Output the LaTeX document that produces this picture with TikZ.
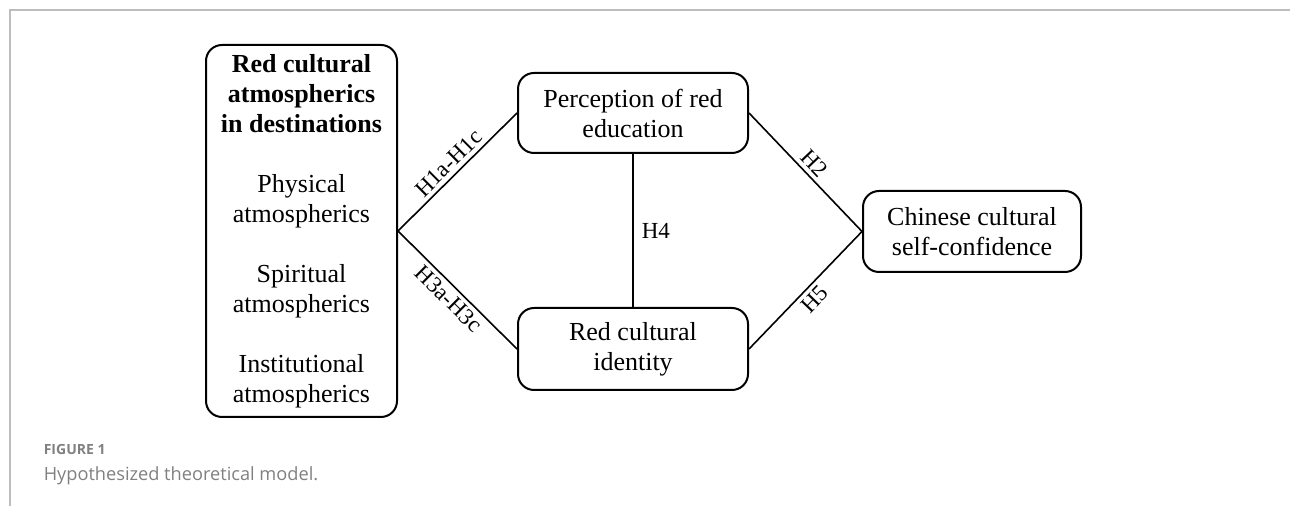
\documentclass[tikz,border=0pt]{standalone}
\usepackage{fontspec}
\setmainfont{Liberation Serif}
\newfontfamily\capfont{Open Sans}
\definecolor{framegray}{HTML}{BDBDBD}
\definecolor{capgray}{HTML}{808080}

\begin{document}
\begin{tikzpicture}[x=0.5pt, y=-0.5pt, thick]

    %styles
    \tikzstyle{var}=[draw, rounded corners=8pt, line width=1pt, align=center, inner sep=0pt, font=\fontsize{13}{15}\selectfont]
    \tikzstyle{link}=[draw, line width=0.8pt]
    \tikzstyle{hyp}=[inner sep=2pt, font=\fontsize{11.5}{13}\selectfont]
    \tikzstyle{caption}=[anchor=base west, inner sep=0pt, text=capgray]

    % frame
    \useasboundingbox (0,0) rectangle (1290,506);
    \draw[framegray, line width=0.8pt] (10,506) -- (10,10) -- (1290,10);

    % nodes
    \node[var, minimum width=95.5pt, minimum height=186pt] (atm) at (301.5,231) {\textbf{Red cultural}\\ \textbf{atmospherics}\\ \textbf{in destinations}\\[15pt] Physical\\ atmospherics\\[15pt] Spiritual\\ atmospherics\\[15pt] Institutional\\ atmospherics};
    \node[var, minimum width=115pt, minimum height=40pt] (per) at (633,113) {Perception of red\\ education};
    \node[var, minimum width=115pt, minimum height=41pt] (ide) at (633,349) {Red cultural\\ identity};
    \node[var, minimum width=109pt, minimum height=40.5pt] (con) at (972,231.5) {Chinese cultural\\ self-confidence};

    % links
    \draw[link] (atm.east) -- node[hyp, sloped, above] {H1a-H1c} (per.west);
    \draw[link] (atm.east) -- node[hyp, sloped, below] {H3a-H3c} (ide.west);
    \draw[link] (per.south) -- node[hyp, right, xshift=2pt] {H4} (ide.north);
    \draw[link] (per.east) -- node[hyp, sloped, above] {H2} (con.west);
    \draw[link] (ide.east) -- node[hyp, sloped, below] {H5} (con.west);

    % caption
    \node[caption, font=\capfont\bfseries\fontsize{7}{8}\selectfont] (fig) at (43,455) {FIGURE 1};
    \node[caption, font=\capfont\fontsize{9.1}{11}\selectfont] (cap) at (43,481) {Hypothesized theoretical model.};
\end{tikzpicture}
\end{document}
